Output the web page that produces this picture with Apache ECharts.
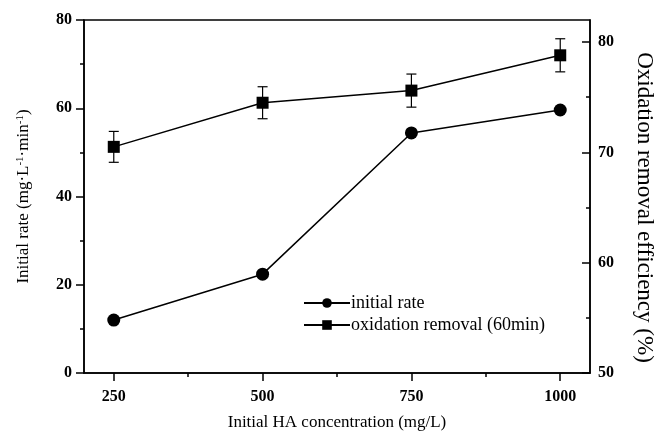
<!DOCTYPE html>
<html>
<head>
<meta charset="utf-8">
<script src="https://cdn.jsdelivr.net/npm/echarts@6/dist/echarts.min.js"></script>
<style>
html,body{margin:0;padding:0;background:#fff;}
#chart{width:659px;height:433px;}
</style>
</head>
<body>
<div id="chart"></div>
<script>
var concentrations = [250, 500, 750, 1000];
var initialRate = [12.0, 22.4, 54.4, 59.6];
var removal = [70.5, 74.5, 75.6, 78.8];
var removalErr = [1.4, 1.45, 1.5, 1.5];
var xTicks = [250, 500, 750, 1000];
var xMinorTicks = [375, 625, 875];
var rightTicks = [50, 60, 70, 80];
var rightMinorTicks = [55, 65, 75];

var FONT = 'Liberation Serif';
var chart = echarts.init(document.getElementById('chart'));

var rateData = concentrations.map(function (c, i) { return [c, initialRate[i]]; });
var remData = concentrations.map(function (c, i) { return [c, removal[i]]; });
var errData = concentrations.map(function (c, i) { return [c, removal[i], removalErr[i]]; });

var labelStyle = {color: '#000', fontFamily: FONT, fontWeight: 'bold', fontSize: 16, formatter: function (v) { return String(v); }};
var nameStyle = {color: '#000', fontFamily: FONT, fontSize: 17};

chart.setOption({
  animation: false,
  backgroundColor: '#fff',
  grid: {left: 84, right: 69, top: 20, bottom: 60, outerBoundsMode: 'none', containLabel: false,
         show: true, borderColor: '#000', borderWidth: 1.5, backgroundColor: 'transparent'},
  legend: {
    left: 298, top: 289, orient: 'vertical', itemWidth: 46, itemHeight: 12, itemGap: 4,
    data: ['initial rate', 'oxidation removal (60min)'],
    textStyle: {color: '#000', fontFamily: FONT, fontSize: 18, padding: [0,0,0,-4]}
  },
  xAxis: [{
    type: 'value', min: 200, max: 1050, position: 'bottom',
    name: 'Initial HA concentration (mg/L)', nameLocation: 'middle', nameGap: 41, nameTextStyle: nameStyle,
    axisLine: {show: true, lineStyle: {color: '#000', width: 1.5}},
    axisTick: {show: true, length: 8, customValues: xTicks, lineStyle: {color: '#000', width: 1.5}},
    axisLabel: Object.assign({margin: 16, customValues: xTicks}, labelStyle),
    splitLine: {show: false}
  }, {
    type: 'value', min: 200, max: 1050, position: 'bottom',
    axisLine: {show: false},
    axisTick: {show: true, length: 4, customValues: xMinorTicks, lineStyle: {color: '#000', width: 1.5}},
    axisLabel: {show: false},
    splitLine: {show: false}
  }],
  yAxis: [{
    type: 'value', min: 0, max: 80, interval: 20, position: 'left',
    name: 'Initial rate (mg·L{sup|-1}·min{sup|-1})', nameLocation: 'middle', nameGap: 51,
    nameTextStyle: Object.assign({rich: {sup: {fontFamily: FONT, fontSize: 11, color: '#000', verticalAlign: 'top', lineHeight: 18}}, lineHeight: 18}, nameStyle),
    axisLine: {show: true, lineStyle: {color: '#000', width: 1.5}},
    axisTick: {show: true, length: 8, lineStyle: {color: '#000', width: 1.5}},
    minorTick: {show: true, splitNumber: 2, length: 4, lineStyle: {color: '#000', width: 1.5}},
    axisLabel: Object.assign({margin: 12}, labelStyle),
    splitLine: {show: false}
  }, {
    type: 'value', min: 50, max: 82, position: 'right',
    name: 'Oxidation removal efficiency (%)', nameLocation: 'middle', nameGap: 43, nameRotate: -90,
    nameTextStyle: {color: '#000', fontFamily: FONT, fontSize: 23, padding: [0, 0, 0, 22]},
    axisLine: {show: true, lineStyle: {color: '#000', width: 1.5}},
    axisTick: {show: true, inside: true, length: 8, customValues: rightTicks, lineStyle: {color: '#000', width: 1.5}},
    axisLabel: Object.assign({margin: 8, customValues: rightTicks}, labelStyle),
    splitLine: {show: false}
  }, {
    type: 'value', min: 50, max: 82, position: 'right',
    axisLine: {show: false},
    axisTick: {show: true, inside: true, length: 4, customValues: rightMinorTicks, lineStyle: {color: '#000', width: 1.5}},
    axisLabel: {show: false},
    splitLine: {show: false}
  }],
  series: [{
    name: 'initial rate', type: 'line', xAxisIndex: 0, yAxisIndex: 0, data: rateData,
    symbol: 'circle', symbolSize: 13,
    lineStyle: {color: '#000', width: 1.5}, itemStyle: {color: '#000'}
  }, {
    name: 'oxidation removal (60min)', type: 'line', xAxisIndex: 0, yAxisIndex: 1, data: remData,
    symbol: 'rect', symbolSize: 12,
    lineStyle: {color: '#000', width: 1.5}, itemStyle: {color: '#000'}, z: 3
  }, {
    name: 'err', type: 'custom', xAxisIndex: 0, yAxisIndex: 1, data: errData, z: 2,
    renderItem: function (params, api) {
      var x = api.value(0), v = api.value(1), e = api.value(2);
      var top = api.coord([x, v + e]);
      var bot = api.coord([x, v - e]);
      var hw = 5;
      var st = {stroke: '#000', lineWidth: 1.2};
      return {type: 'group', children: [
        {type: 'line', shape: {x1: top[0], y1: top[1], x2: bot[0], y2: bot[1]}, style: st},
        {type: 'line', shape: {x1: top[0]-hw, y1: top[1], x2: top[0]+hw, y2: top[1]}, style: st},
        {type: 'line', shape: {x1: bot[0]-hw, y1: bot[1], x2: bot[0]+hw, y2: bot[1]}, style: st}
      ]};
    }
  }]
});
</script>
</body>
</html>
